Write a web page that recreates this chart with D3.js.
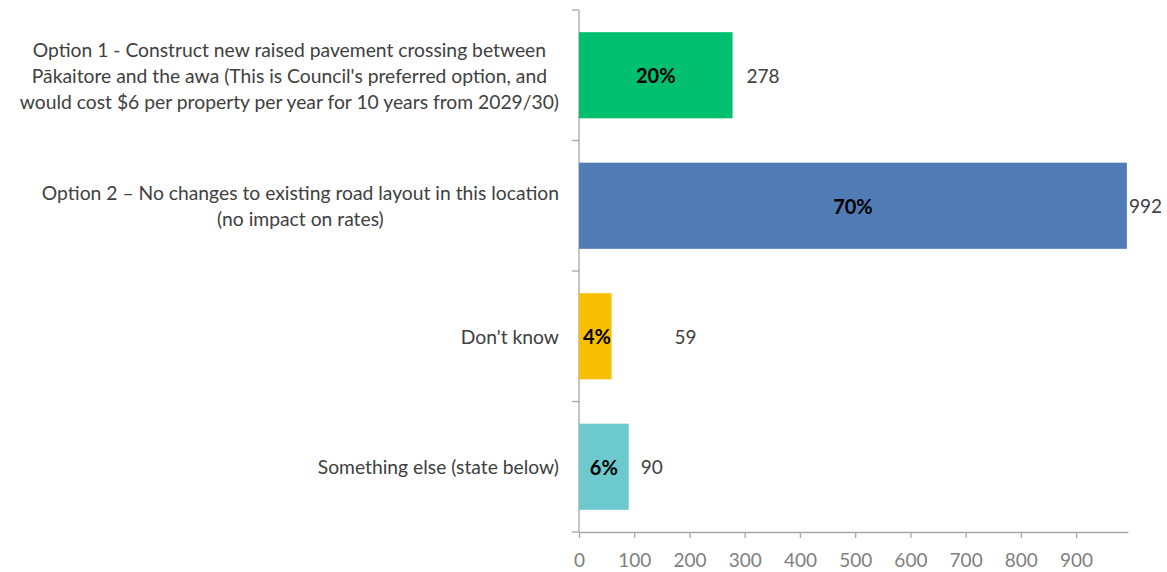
<!DOCTYPE html>
<html>
<head>
<meta charset="utf-8">
<script src="https://cdn.jsdelivr.net/npm/d3@7"></script>
<style>
  html, body { margin: 0; padding: 0; background: #ffffff; }
  svg { display: block; }
  text { font-family: Lato, "Open Sans", sans-serif; }
</style>
</head>
<body>
<svg id="chart" width="1167" height="572"></svg>
<script>
// Survey responses: counts per option, with share of total
const categories = [
  "Option 1 - Construct new raised pavement crossing between\nPākaitore and the awa (This is Council's preferred option, and\nwould cost $6 per property per year for 10 years from 2029/30)",
  "Option 2 – No changes to existing road layout in this location\n(no impact on rates)",
  "Don't know",
  "Something else (state below)"
];
const counts = [278, 992, 59, 90];
const percents = ["20%", "70%", "4%", "6%"];
const barColors = ["#00bf6f", "#507bb5", "#f8be00", "#6cc9cd"];
const xTicks = [0, 100, 200, 300, 400, 500, 600, 700, 800, 900];

// extra horizontal gap (px) between each bar end and its count label
const countLabelGap = [14, 2, 63, 12];

const svg = d3.select("#chart");
const margin = { left: 579, right: 39, top: 10, bottom: 40 };
const W = 1167, H = 572;
const plotW = W - margin.left - margin.right;
const plotH = H - margin.top - margin.bottom;

const g = svg.append("g").attr("transform", `translate(${margin.left},${margin.top})`);

const x = d3.scaleLinear().domain([0, 994]).range([0, plotW]);
const y = d3.scaleBand().domain(d3.range(categories.length)).range([0, plotH]).paddingInner(0.34).paddingOuter(0.17);

const axisColor = "#a6a6a6";
const textColor = "#404040";
const catFont = 19.3;
const numFont = 19;

// bottom value axis
const xAxis = g.append("g")
  .attr("transform", `translate(0,${plotH})`)
  .call(d3.axisBottom(x).tickValues(xTicks).tickSize(6).tickSizeOuter(0).tickFormat(d3.format("d")));
xAxis.select(".domain").attr("stroke", axisColor).attr("stroke-width", 1.3);
xAxis.selectAll(".tick line").attr("stroke", axisColor).attr("stroke-width", 1.3);
xAxis.selectAll(".tick text")
  .attr("fill", "#7f7f7f").attr("font-size", numFont).attr("dy", "1.37em");

// left category axis line with boundary ticks
g.append("line").attr("x1", 0).attr("x2", 0).attr("y1", 0).attr("y2", plotH)
  .attr("stroke", axisColor).attr("stroke-width", 1.3);
const bounds = d3.range(categories.length + 1).map(i => i * plotH / categories.length);
g.selectAll(".cat-tick").data(bounds).join("line")
  .attr("class", "cat-tick")
  .attr("x1", -7).attr("x2", 0)
  .attr("y1", d => d).attr("y2", d => d)
  .attr("stroke", axisColor).attr("stroke-width", 1.3);

// bars
g.selectAll(".bar").data(counts).join("rect")
  .attr("class", "bar")
  .attr("x", 0)
  .attr("y", (d, i) => y(i))
  .attr("width", d => x(d))
  .attr("height", y.bandwidth())
  .attr("fill", (d, i) => barColors[i]);

// percent labels inside bars
g.selectAll(".pct").data(counts).join("text")
  .attr("class", "pct")
  .text((d, i) => percents[i])
  .attr("font-size", numFont + 1)
  .attr("font-weight", "bold")
  .attr("fill", "#000000")
  .attr("dominant-baseline", "central")
  .attr("y", (d, i) => y(i) + y.bandwidth() / 2)
  .each(function (d) {
    const tw = this.getComputedTextLength();
    const cx = Math.max(x(d) / 2, 4 + tw / 2);
    d3.select(this).attr("x", cx).attr("text-anchor", "middle");
  });

// count labels after bars
g.selectAll(".cnt").data(counts).join("text")
  .attr("class", "cnt")
  .text(d => d)
  .attr("font-size", numFont)
  .attr("fill", textColor)
  .attr("dominant-baseline", "central")
  .attr("x", (d, i) => x(d) + countLabelGap[i])
  .attr("y", (d, i) => y(i) + y.bandwidth() / 2);

// category labels: multi-line blocks, centred within block, block right-aligned
const lineH = 26;
categories.forEach((c, i) => {
  const lines = c.split("\n");
  const cy = (bounds[i] + bounds[i + 1]) / 2;
  const grp = g.append("g");
  const texts = lines.map((ln, k) => grp.append("text")
    .text(ln)
    .attr("font-size", catFont)
    .attr("fill", textColor)
    .attr("dominant-baseline", "central")
    .attr("text-anchor", "middle")
    .attr("y", cy + (k - (lines.length - 1) / 2) * lineH));
  const maxW = d3.max(texts, t => t.node().getComputedTextLength());
  const center = -20 - maxW / 2;
  texts.forEach(t => t.attr("x", center));
});
</script>
</body>
</html>
